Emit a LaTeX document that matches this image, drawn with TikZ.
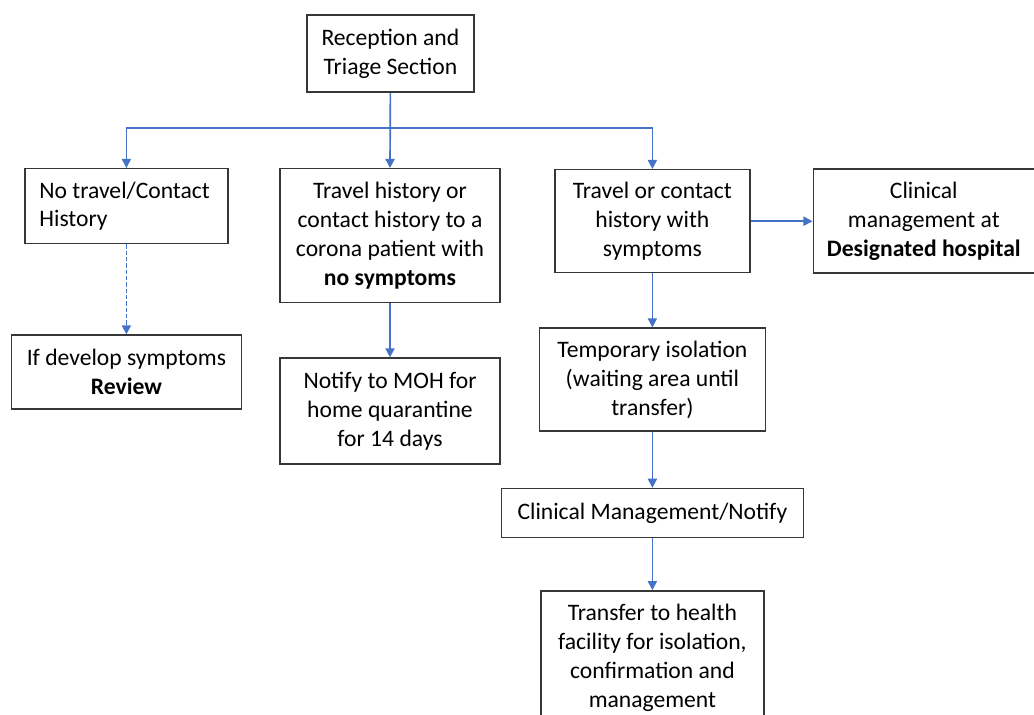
\documentclass[tikz,border=0pt]{standalone}
\usepackage{fontspec}
\setmainfont{Carlito}
\usepackage{xcolor}
\usetikzlibrary{arrows.meta,positioning,calc}
\definecolor{flowblue}{RGB}{68,114,196}
\definecolor{boxline}{RGB}{55,55,55}

\begin{document}
\begin{tikzpicture}[>=Latex,
  box/.style={draw=boxline,line width=1pt,align=center,inner sep=2pt,font=\fontsize{16.8}{20.6}\selectfont},
  flow/.style={draw=flowblue,line width=1.2pt,-{Triangle[width=6.5pt,length=6.5pt]}}]
\useasboundingbox (0,0) rectangle (25.85,-17.875);
\clip (0,0) rectangle (25.85,-17.875);
% Reception
\node[box,minimum width=4.175cm,minimum height=1.925cm] (rec) at (9.76,-1.34) {Reception and\\Triage Section};
% First row
\node[box,anchor=north,minimum width=5.075cm,minimum height=1.875cm,text width=4.35cm,align=flush left] (nota) at (3.16,-4.2) {No travel/Contact\\History};
\node[box,anchor=north,minimum width=5.5cm,minimum height=3.35cm] (trav) at (9.75,-4.2) {Travel history or\\contact history to a\\corona patient with\\\textbf{no symptoms}};
\node[box,anchor=north,minimum width=4.875cm,minimum height=2.575cm] (symp) at (16.31,-4.225) {Travel or contact\\history with\\symptoms};
\node[box,right=1.55cm of symp,minimum width=5.525cm,minimum height=2.6cm] (desig) {Clinical\\management at\\\textbf{Designated hospital}};
% Second row
\node[box,below=2.25cm of nota,minimum width=5.75cm,minimum height=1.85cm] (rev) {If develop symptoms\\\textbf{Review}};
\node[box,below=1.35cm of trav,minimum width=5.5cm,minimum height=2.65cm] (moh) {Notify to MOH for\\home quarantine\\for 14 days};
\node[box,below=1.35cm of symp,minimum width=5.65cm,minimum height=2.575cm] (iso) {Temporary isolation\\(waiting area until\\transfer)};
% Symptomatic path
\node[box,below=1.4cm of iso,minimum width=7.55cm,minimum height=1.225cm] (clin) {Clinical Management/Notify};
\node[box,below=1.3cm of clin,minimum width=5.575cm,minimum height=3.35cm] (trans) {Transfer to health\\facility for isolation,\\confirmation and\\management};
% Connectors
\coordinate (split) at ($(rec.south)+(0,-0.875)$);
\draw[flow] (rec.south) -- (trav.north);
\draw[flow] (split) -| (nota.north);
\draw[flow] (split) -| (symp.north);
\draw[flow] (symp.east) -- (desig.west);
\draw[flow,dash pattern=on 3pt off 1.5pt] (nota) -- (rev);
\draw[flow] (trav) -- (moh);
\draw[flow] (symp) -- (iso);
\draw[flow] (iso) -- (clin);
\draw[flow] (clin) -- (trans);
\end{tikzpicture}
\end{document}
